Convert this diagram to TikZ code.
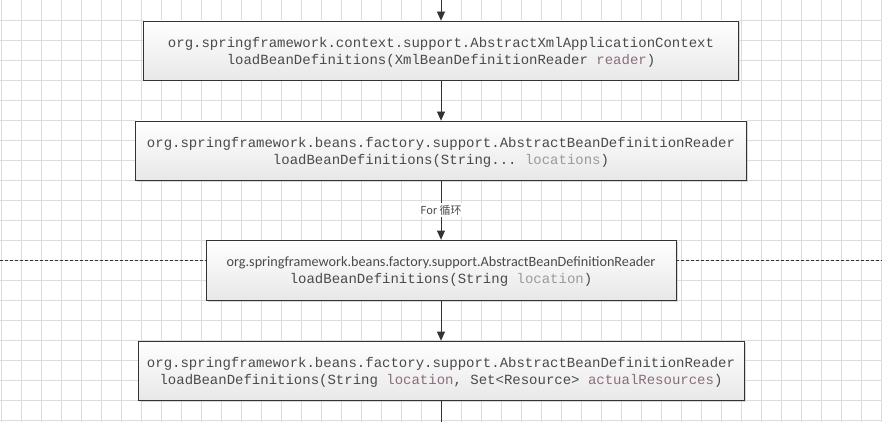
\documentclass[tikz,border=0pt]{standalone}
\usepackage{fontspec}
\setmonofont{Liberation Mono}
\newfontfamily\calib{Carlito}
\newfontfamily\cjk{Noto Sans CJK SC}
\usetikzlibrary{arrows.meta,shadows}
\definecolor{gridc}{HTML}{DCDCDC}
\definecolor{txt}{HTML}{4A4A4A}
\definecolor{mauve}{HTML}{8A6D7D}
\definecolor{lgray}{HTML}{9A9A9A}
\definecolor{edge}{HTML}{333333}
\begin{document}
\begin{tikzpicture}[x=1pt,y=-1pt,
  box/.style={draw=edge,line width=0.8pt,top color=white,bottom color=black!9,
    drop shadow={shadow xshift=1.5pt,shadow yshift=-1.5pt,fill=black!25,opacity=0.6},
    inner sep=0pt},
  boxtext/.style={align=center,inner sep=0pt,font=\ttfamily\fontsize{14}{17}\selectfont,text=txt},
  conn/.style={draw=edge,line width=0.8pt,-{Triangle[width=8pt,length=9pt]}},
  plain/.style={draw=edge,line width=0.8pt}]
\useasboundingbox (0,0) rectangle (882,422);
\fill[white] (0,0) rectangle (882,422);
\foreach \i in {0,...,44} \draw[gridc,line width=0.6pt] (20*\i+1,0) -- (20*\i+1,422);
\foreach \j in {1,...,21} \draw[gridc,line width=0.6pt] (0,20*\j) -- (882,20*\j);
\node[box,minimum width=595pt,minimum height=59pt] (b1) at (441,50.5) {};
\node[boxtext] (t1) at ([yshift=-2pt]b1.center)
  {org.springframework.context.support.AbstractXmlApplicationContext\\
   loadBeanDefinitions(XmlBeanDefinitionReader \textcolor{mauve}{reader})};
\node[box,minimum width=611pt,minimum height=59pt] (b2) at (441,150.5) {};
\node[boxtext] (t2) at ([yshift=-2pt]b2.center)
  {org.springframework.beans.factory.support.AbstractBeanDefinitionReader\\
   loadBeanDefinitions(String... \textcolor{lgray}{locations})};
\node[box,minimum width=470pt,minimum height=60pt] (b3) at (441,270) {};
\node[boxtext] (t3) at ([yshift=-2pt]b3.center)
  {{\calib\fontsize{14.2}{17}\selectfont org.springframework.beans.factory.support.AbstractBeanDefinitionReader}\\
   loadBeanDefinitions(String \textcolor{lgray}{location})};
\node[box,minimum width=606pt,minimum height=59pt] (b4) at (441,370.5) {};
\node[boxtext] (t4) at ([yshift=-2pt]b4.center)
  {org.springframework.beans.factory.support.AbstractBeanDefinitionReader\\
   loadBeanDefinitions(String \textcolor{mauve}{location}, Set<Resource> \textcolor{mauve}{actualResources})};
\coordinate (top) at (441,0);
\coordinate (bot) at (441,422);
\coordinate (dl) at (0,260);
\coordinate (dr) at (882,260);
\draw[conn] (top) -- (b1.north);
\draw[conn] (b1.south) -- (b2.north);
\draw[conn] (b2.south) -- node[fill=white,inner sep=1.5pt,font=\cjk\fontsize{11}{13}\selectfont,text=txt] (lbl) {For 循环} (b3.north);
\draw[conn] (b3.south) -- (b4.north);
\draw[plain] (b4.south) -- (bot);
\draw[plain,dashed,dash pattern=on 3pt off 2pt] (dl) -- (dl -| b3.west);
\draw[plain,dashed,dash pattern=on 3pt off 2pt] (dr -| b3.east) -- (dr);
\end{tikzpicture}
\end{document}
